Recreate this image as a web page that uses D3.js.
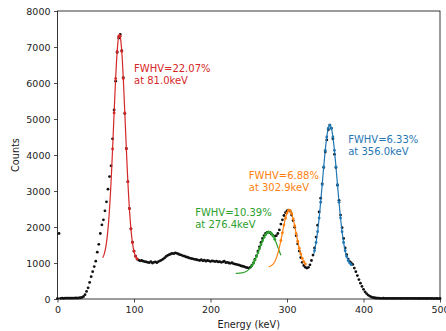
<!DOCTYPE html>
<html>
<head>
<meta charset="utf-8">
<script src="https://cdn.jsdelivr.net/npm/d3@7"></script>
<style>
  body { margin: 0; background: #fff; }
  svg { display: block; font-family: "DejaVu Sans", sans-serif; }
</style>
</head>
<body>
<div id="chart"></div>
<script>
// Spectrum: counts per 2 keV bin, starting at 0 keV
const binStart = 0;
const binWidth = 2;
const counts = [
  15, 1820, 20, 22, 20, 22, 25, 22, 25, 24,
  26, 25, 28, 27, 30, 35, 45, 70, 120, 210,
  310, 460, 620, 760, 900, 1050, 1300, 1520, 1820, 2060,
  2200, 2450, 2700, 3050, 3400, 3700, 4450, 5250, 6050, 6850,
  7250, 7350, 6900, 6150, 5150, 4180, 3260, 2520, 1950, 1580,
  1330, 1190, 1110, 1080, 1060, 1070, 1050, 1040, 1030, 1020,
  1010, 1040, 1000, 1020, 1030, 1010, 1040, 1060, 1080, 1110,
  1140, 1180, 1210, 1230, 1250, 1270, 1260, 1280, 1270, 1250,
  1230, 1220, 1200, 1190, 1170, 1160, 1140, 1130, 1120, 1110,
  1100, 1090, 1080, 1070, 1090, 1060, 1080, 1050, 1070, 1060,
  1040, 1060, 1050, 1040, 1050, 1030, 1040, 1020, 1030, 1050,
  1010, 1020, 1000, 990, 1010, 980, 970, 960, 950, 940,
  920, 910, 900, 880, 870, 860, 880, 930, 1000, 1100,
  1200, 1330, 1450, 1570, 1680, 1760, 1820, 1850, 1860, 1840,
  1800, 1760, 1740, 1760, 1820, 1920, 2080, 2200, 2320, 2400,
  2450, 2470, 2440, 2330, 2180, 1990, 1760, 1530, 1330, 1150,
  1020, 930, 880, 860, 880, 950, 1070, 1220, 1420, 1720,
  2050, 2420, 2800, 3200, 3650, 4080, 4420, 4700, 4830, 4740,
  4450, 4020, 3650, 3160, 2740, 2330, 1980, 1680, 1420, 1230,
  1110, 1040, 1000, 960, 860, 760, 650, 540, 440, 350,
  270, 200, 150, 110, 80, 60, 45, 35, 28, 24,
  22, 20, 18, 21, 19, 17, 20, 18, 19, 16,
  18, 17, 19, 18, 16, 17, 18, 15, 17, 16,
  18, 15, 16, 17, 15, 16, 14, 16, 15, 17,
  15, 14, 16, 15, 14, 15, 13, 15, 14, 13,
  14
];

// Gaussian + flat background fits, one entry per peak
const peakCenters = [81.0, 276.4, 302.9, 356.0];
const peakFwhmPct = [22.07, 10.39, 6.88, 6.33];
const peakAmps = [6300, 1150, 1590, 3930];
const peakBgs = [1050, 710, 880, 900];
const lineRanges = [[59, 104], [233, 292], [276, 324], [335, 385]];
const markRanges = [[72, 104], [254, 284], [292, 324], [336, 384]];
const labelAnchors = [[100, 6300], [180, 2310], [250, 3330], [380, 4320]];

const xTicks = [0, 100, 200, 300, 400, 500];
const yTicks = [0, 1000, 2000, 3000, 4000, 5000, 6000, 7000, 8000];

const peakColours = ['#d62728', '#2ca02c', '#ff7f0e', '#1f77b4'];

const width = 446, height = 331;
const margin = { left: 57.5, right: 6, top: 11, bottom: 32 };

const svg = d3.select("#chart").append("svg")
  .attr("width", width)
  .attr("height", height);

const x = d3.scaleLinear().domain([0, 500]).range([margin.left, width - margin.right]);
const y = d3.scaleLinear().domain([0, 8000]).range([height - margin.bottom, margin.top]);

const data = counts.map((c, i) => ({ e: binStart + i * binWidth, c: c }));

function fitValue(k, e) {
  const sigma = peakFwhmPct[k] / 100 * peakCenters[k] / 2.3548;
  const d = e - peakCenters[k];
  return peakBgs[k] + peakAmps[k] * Math.exp(-d * d / (2 * sigma * sigma));
}

// Axes
const xAxis = svg.append("g")
  .attr("transform", `translate(0,${y(0)})`)
  .call(d3.axisBottom(x).tickValues(xTicks).tickSize(3.5).tickPadding(3.5).tickFormat(d3.format("d")));

const yAxis = svg.append("g")
  .attr("transform", `translate(${x(0)},0)`)
  .call(d3.axisLeft(y).tickValues(yTicks).tickSize(3.5).tickPadding(3.5).tickFormat(d3.format("d")));

[xAxis, yAxis].forEach(a => {
  a.select(".domain").remove();
  a.selectAll(".tick line").attr("stroke", "#222").attr("stroke-width", 0.8);
  a.selectAll(".tick text")
    .attr("fill", "#222")
    .style("font-size", "9.5px")
    .style("font-family", "DejaVu Sans");
});

// Frame
svg.append("rect")
  .attr("x", x(0))
  .attr("y", y(8000))
  .attr("width", x(500) - x(0))
  .attr("height", y(0) - y(8000))
  .attr("fill", "none")
  .attr("stroke", "#222")
  .attr("stroke-width", 0.9);

// Axis labels
svg.append("text")
  .attr("x", (x(0) + x(500)) / 2)
  .attr("y", 328)
  .attr("text-anchor", "middle")
  .attr("fill", "#222")
  .style("font-size", "9.7px")
  .text("Energy (keV)");

svg.append("text")
  .attr("transform", `translate(19,${(y(0) + y(8000)) / 2}) rotate(-90)`)
  .attr("text-anchor", "middle")
  .attr("fill", "#222")
  .style("font-size", "9.7px")
  .text("Counts");

// Data points
svg.selectAll(".dataDots")
  .data(data)
  .enter()
  .append("circle")
  .attr("class", "dataDots")
  .attr("cx", d => x(d.e))
  .attr("cy", d => y(d.c))
  .attr("r", 1.4)
  .attr("fill", "#111");

// Fits
const line = d3.line().x(d => x(d[0])).y(d => y(d[1]));

peakCenters.forEach((center, k) => {
  const [lo, hi] = lineRanges[k];
  const curve = d3.range(lo, hi + 0.001, 0.5).map(e => [e, fitValue(k, e)]);

  svg.append("path")
    .datum(curve)
    .attr("d", line)
    .attr("fill", "none")
    .attr("stroke", peakColours[k])
    .attr("stroke-width", 1.2);

  const [mlo, mhi] = markRanges[k];
  svg.selectAll(".fitDots" + k)
    .data(data.filter(d => d.e >= mlo && d.e <= mhi))
    .enter()
    .append("circle")
    .attr("class", "fitDots" + k)
    .attr("cx", d => x(d.e))
    .attr("cy", d => y(fitValue(k, d.e)))
    .attr("r", 1.4)
    .attr("fill", peakColours[k]);

  const [lx, ly] = labelAnchors[k];
  const label = svg.append("text")
    .attr("x", x(lx))
    .attr("y", y(ly))
    .attr("fill", peakColours[k])
    .style("font-size", "10px");
  label.append("tspan")
    .attr("x", x(lx))
    .text(`FWHV=${peakFwhmPct[k].toFixed(2)}%`);
  label.append("tspan")
    .attr("x", x(lx))
    .attr("dy", 11.8)
    .text(`at ${center.toFixed(1)}keV`);
});
</script>
</body>
</html>
